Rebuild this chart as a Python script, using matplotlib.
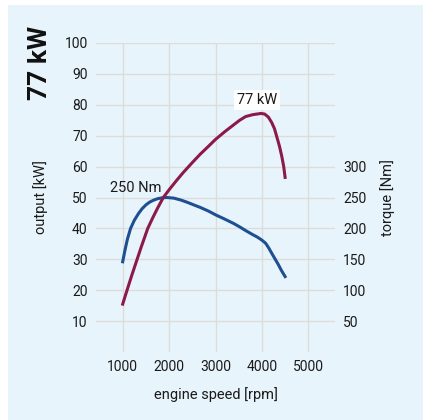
import matplotlib.pyplot as plt
from matplotlib.patches import Rectangle

plt.rcParams["font.family"] = ["Roboto", "DejaVu Sans"]

# engine curves
rpm_power = [1000, 1100, 1200, 1300, 1400, 1540, 1650, 1750, 1875, 2000, 2160, 2300, 2500, 2670,
             2850, 3000, 3200, 3390, 3520, 3650, 3800, 3980, 4060, 4140, 4210, 4270, 4320, 4380,
             4430, 4470, 4500]
power_kw = [15.5, 20.3, 25, 29.5, 34, 40, 43.5, 46.5, 50, 52.5, 55.5, 58, 61.3, 64.0,
            66.6, 68.8, 71.3, 73.5, 75, 76.2, 76.8, 77.2, 77, 76, 74.3, 72.3, 69.7, 66.5,
            63.2, 60, 56.5]

rpm_torque = [1000, 1050, 1100, 1170, 1250, 1340, 1420, 1500, 1580, 1660, 1750, 1850, 1950,
              2100, 2250, 2400, 2550, 2670, 2850, 3000, 3200, 3390, 3520, 3650, 3800, 3900,
              4000, 4080, 4150, 4210, 4280, 4350, 4420, 4500]
torque_nm = [146, 165, 182, 200, 213, 224, 232, 238, 242.5, 245.5, 248, 249.5, 250,
             249, 246, 242, 237.5, 234, 228, 222, 215, 208, 202.5, 196.5, 190, 186,
             181, 176, 168, 160, 151, 142, 132, 122]

x_ticks = [1000, 2000, 3000, 4000, 5000]
kw_ticks = [10, 20, 30, 40, 50, 60, 70, 80, 90, 100]
nm_ticks = [50, 100, 150, 200, 250, 300]

BG = "#e8f4fb"
RED = "#8b1a4b"
BLUE = "#1d4f91"
GRID = "#dcdcdc"
TXT = "#1a1a1a"
W, H = 432, 420

fig = plt.figure(figsize=(W / 100, H / 100), dpi=100, facecolor="white")
fig.patches.append(Rectangle((8 / W, 0), (423 - 8) / W, (H - 5) / H,
                             transform=fig.transFigure, facecolor=BG, edgecolor="none", zorder=-10))

ax = fig.add_axes([96 / W, 1 - 352 / H, (335 - 96) / W, (352 - 43) / H])
ax2 = ax.twinx()

# torque axis sits below and carries the white background + grid
ax2.set_ylim(0, 500)
ax2.set_yticks(nm_ticks)
ax2.patch.set_facecolor("white")
for y in kw_ticks:
    ax2.axhline(y * 5, color=GRID, linewidth=1.0, zorder=0)
for x in x_ticks:
    ax2.axvline(x, color=GRID, linewidth=1.0, zorder=0)
ax2.plot(rpm_torque, torque_nm, color=BLUE, linewidth=2.2, solid_joinstyle="round")

# power axis on top, transparent
ax.set_zorder(ax2.get_zorder() + 1)
ax.patch.set_visible(False)
ax.set_xlim(425, 5575)
ax.set_ylim(0, 100)
ax.set_xticks(x_ticks)
ax.set_yticks(kw_ticks)
ax.plot(rpm_power, power_kw, color=RED, linewidth=2.2, solid_joinstyle="round")

for a in (ax, ax2):
    for s in a.spines.values():
        s.set_visible(False)
    a.tick_params(length=0, labelsize=10, pad=6, colors=TXT)

ax.set_ylabel("output [kW]", fontsize=10.5, labelpad=12, color=TXT)
ax.set_xlabel("engine speed [rpm]", fontsize=10.5, labelpad=9, color=TXT)
ax2.set_ylabel("torque [Nm]", fontsize=10.5, labelpad=10, color=TXT)

ax.text(1280, 53.1, "250 Nm", fontsize=10.5, ha="center", va="center", color=TXT)
ax.text(3890, 81.6, "77 kW", fontsize=10.5, ha="center", va="center", color=TXT,
        bbox=dict(facecolor="white", edgecolor="none", pad=2))

fig.text(40 / W, 1 - 63 / H, "77 kW", rotation=90, fontsize=19, fontweight="bold",
         ha="center", va="center", color="#111111")

fig.savefig("out.png", dpi=100, facecolor="white")
